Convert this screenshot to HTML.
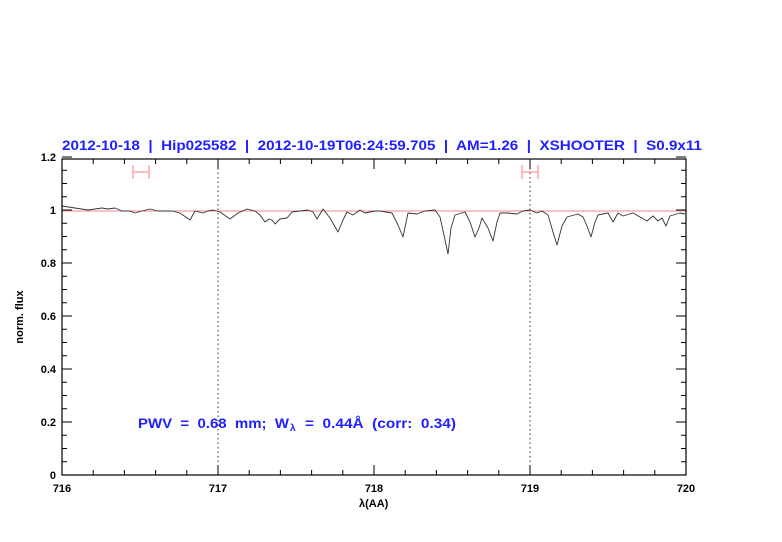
<!DOCTYPE html>
<html><head><meta charset="utf-8"><style>
html,body{margin:0;padding:0;background:#fff;width:782px;height:542px;overflow:hidden}
svg text{font-family:"Liberation Sans",sans-serif}
</style></head><body>
<svg id="s" width="782" height="542" xmlns="http://www.w3.org/2000/svg">
<text x="62" y="150" font-size="13.5" font-weight="bold" fill="#2020ff" textLength="640" lengthAdjust="spacingAndGlyphs" xml:space="preserve">2012-10-18  |  Hip025582  |  2012-10-19T06:24:59.705  |  AM=1.26  |  XSHOOTER  |  S0.9x11</text>
<line x1="218" y1="159" x2="218" y2="475" stroke="#333" stroke-width="1" stroke-dasharray="1.5,3"/>
<line x1="530" y1="159" x2="530" y2="475" stroke="#333" stroke-width="1" stroke-dasharray="1.5,3"/>
<line x1="62" y1="211" x2="686" y2="211" stroke="#e88" stroke-width="1"/>
<g stroke="#f99" stroke-width="1.3">
<line x1="133" y1="172" x2="149" y2="172"/><line x1="133" y1="165" x2="133" y2="179"/><line x1="149" y1="165" x2="149" y2="179"/>
<line x1="522" y1="172" x2="538" y2="172"/><line x1="522" y1="165" x2="522" y2="179"/><line x1="538" y1="165" x2="538" y2="179"/>
</g>
<polyline fill="none" stroke="#333" stroke-width="0.9" stroke-linejoin="round" points="62,206 75,208 88,210 95,209 102,208 108,209 115,208 122,211 130,211 135,213 142,211 150,209 158,211 165,211 172,211 180,213 190,220 195,211 203,213 208,211 213,210 220,212 230,219 238,213 247,209 255,211 260,215 265,222 269,219 272,220 275,224 280,219 287,218 292,212 300,211 308,210 313,212 317,219 320,214 323,209 330,218 338,232 343,220 347,212 353,215 360,210 365,213 375,211 380,211 386,212 392,213 398,225 403,237 408,213 417,214 425,211 435,210 440,217 444,235 448,254 451,228 455,215 465,212 470,222 475,237 479,228 482,218 488,228 493,241 497,222 500,213 508,213 517,214 523,211 530,210 537,213 542,211 548,215 553,232 557,245 562,226 567,217 578,214 583,217 587,226 591,237 595,222 598,215 608,213 613,222 618,213 623,216 633,213 640,217 647,221 653,216 658,221 662,218 666,226 670,216 680,213 685,214"/>
<rect x="62" y="159" width="624" height="316" fill="none" stroke="#000" stroke-width="1.2"/>
<g id="ticks" stroke="#000" stroke-width="1"></g>
<g font-size="11" fill="#000" font-weight="bold" id="lab"></g>
<g font-size="13.5" font-weight="bold" fill="#2020ff">
<text x="138" y="428" textLength="151" lengthAdjust="spacingAndGlyphs" xml:space="preserve">PWV  =  0.68  mm;  W</text>
<text x="290" y="431" font-size="10">λ</text>
<text x="305" y="428" textLength="151" lengthAdjust="spacingAndGlyphs" xml:space="preserve">=  0.44Å  (corr:  0.34)</text>
</g>
<text x="359" y="507" font-size="11" font-weight="bold" fill="#000">λ(AA)</text>
<text transform="translate(23,317) rotate(-90)" text-anchor="middle" font-size="11" font-weight="bold" fill="#000">norm. flux</text>
</svg>
<script>
var t=document.getElementById('ticks'),l=document.getElementById('lab'),ns='http://www.w3.org/2000/svg';
function ln(a,b,c,d){var e=document.createElementNS(ns,'line');e.setAttribute('x1',a);e.setAttribute('y1',b);e.setAttribute('x2',c);e.setAttribute('y2',d);t.appendChild(e);}
function tx(x,y,s,a){var e=document.createElementNS(ns,'text');e.setAttribute('x',x);e.setAttribute('y',y);e.setAttribute('text-anchor',a);e.textContent=s;l.appendChild(e);}
for(var i=0;i<=20;i++){var x=62+i*31.2,L=(i%5==0)?10:5;ln(x,475,x,475-L);ln(x,159,x,159+L);if(i%5==0)tx(x,492,String(716+i/5),'middle');}
for(var j=0;j<=24;j++){var y=475-j*13.25,L=(j%4==0)?10:5;ln(62,y,62+L,y);ln(686,y,686-L,y);if(j%4==0){var v=j*0.05;var s=(Math.abs(v-1)<1e-6)?'1':(v==0?'0':v.toFixed(1));tx(56,y+4,s,'end');}}
</script>
</body></html>
